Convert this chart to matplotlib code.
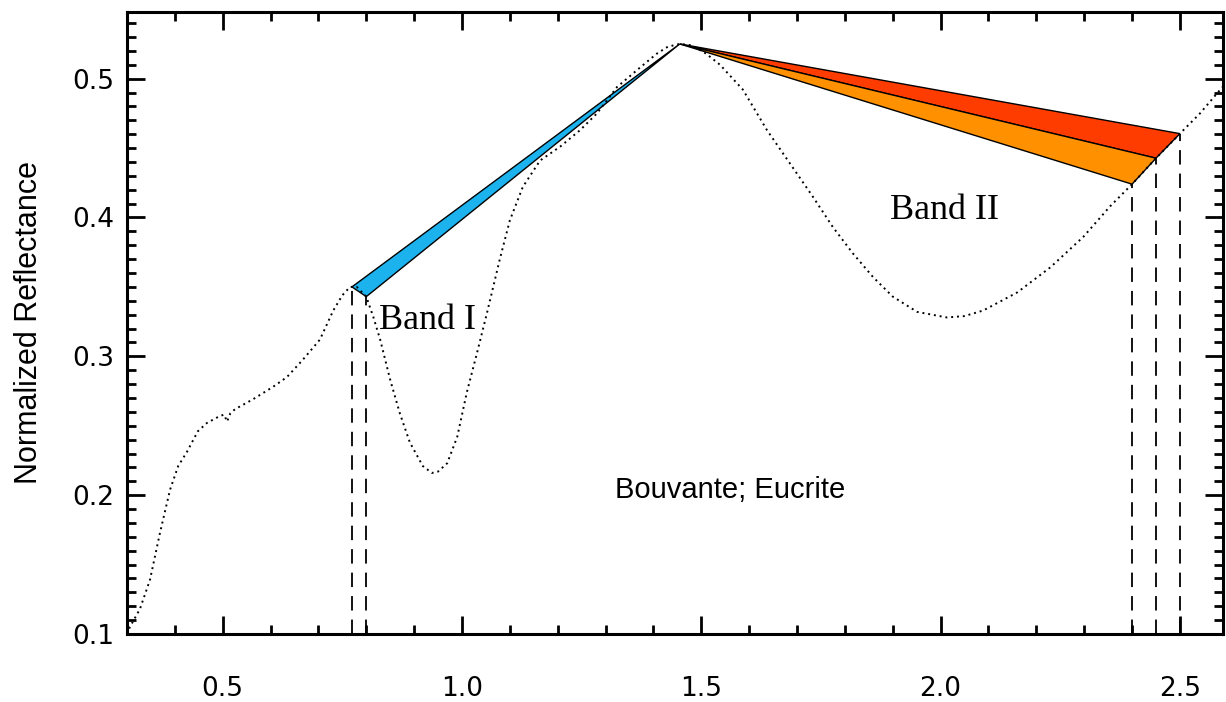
import numpy as np
import matplotlib
matplotlib.use("Agg")
import matplotlib.pyplot as plt
from matplotlib.ticker import MultipleLocator
from matplotlib.patches import Polygon

# Bouvante (eucrite) reflectance spectrum, normalized
wavelength = [0.300, 0.306, 0.327, 0.348, 0.369, 0.390, 0.407, 0.425, 0.448, 0.467,
              0.494, 0.503, 0.509, 0.516, 0.526, 0.563, 0.605, 0.634, 0.666, 0.703,
              0.731, 0.750, 0.766, 0.780, 0.800, 0.815, 0.829, 0.850, 0.870, 0.891,
              0.918, 0.937, 0.950, 0.969, 0.990, 1.010, 1.031, 1.052, 1.079, 1.100,
              1.127, 1.163, 1.205, 1.247, 1.282, 1.324, 1.372, 1.407, 1.430, 1.455,
              1.480, 1.510, 1.539, 1.587, 1.637, 1.685, 1.733, 1.775, 1.817, 1.859,
              1.900, 1.951, 2.013, 2.050, 2.089, 2.160, 2.229, 2.298, 2.354, 2.400,
              2.448, 2.496, 2.542, 2.584, 2.600]
reflectance = [0.100, 0.105, 0.118, 0.139, 0.173, 0.204, 0.221, 0.231, 0.246, 0.252,
               0.257, 0.258, 0.253, 0.259, 0.262, 0.269, 0.278, 0.285, 0.297, 0.312,
               0.333, 0.344, 0.350, 0.350, 0.343, 0.328, 0.312, 0.283, 0.259, 0.238,
               0.221, 0.216, 0.217, 0.223, 0.242, 0.274, 0.302, 0.331, 0.370, 0.398,
               0.422, 0.441, 0.451, 0.463, 0.475, 0.494, 0.508, 0.518, 0.523, 0.525,
               0.524, 0.518, 0.510, 0.492, 0.463, 0.439, 0.415, 0.393, 0.374, 0.357,
               0.343, 0.332, 0.328, 0.329, 0.333, 0.346, 0.364, 0.386, 0.408, 0.424,
               0.442, 0.459, 0.475, 0.492, 0.498]

# continuum end points (left shoulders of Band I, right shoulders of Band II)
band1_starts = [0.77, 0.80]
band2_ends = [2.40, 2.45, 2.50]
peak_x = 1.455

wl = np.array(wavelength)
refl = np.array(reflectance)
peak_y = np.interp(peak_x, wl, refl)

fig = plt.figure(figsize=(12.26, 7.02), dpi=100)
ax = fig.add_axes([127 / 1226, 68 / 702, 1096 / 1226, 622 / 702])

ax.plot(wl, refl, color="black", lw=1.4, linestyle=(0, (1, 2.0)), zorder=3)

# Band I continuum wedge
b1 = [(x, np.interp(x, wl, refl)) for x in band1_starts]
ax.add_patch(Polygon([b1[0], (peak_x, peak_y), b1[1]], closed=True,
                     facecolor="#1CB2EE", edgecolor="black", lw=1.0, zorder=2))

# Band II continuum wedges
b2 = [(x, np.interp(x, wl, refl)) for x in band2_ends]
ax.add_patch(Polygon([(peak_x, peak_y), b2[2], b2[1]], closed=True,
                     facecolor="#FF3C00", edgecolor="black", lw=1.0, zorder=2))
ax.add_patch(Polygon([(peak_x, peak_y), b2[1], b2[0]], closed=True,
                     facecolor="#FF9100", edgecolor="black", lw=1.0, zorder=2))

# dashed drop lines at the continuum end points
for x, y in b1 + b2:
    ax.plot([x, x], [0.1, y], color="black", lw=1.3, linestyle=(0, (8, 5)), zorder=1)

ax.set_xlim(0.3, 2.59)
ax.set_ylim(0.1, 0.548)

ax.xaxis.set_major_locator(MultipleLocator(0.5))
ax.xaxis.set_minor_locator(MultipleLocator(0.1))
ax.yaxis.set_major_locator(MultipleLocator(0.1))
ax.yaxis.set_minor_locator(MultipleLocator(0.01))
ax.set_xticks([0.5, 1.0, 1.5, 2.0, 2.5])
ax.set_xticklabels(["0.5", "1.0", "1.5", "2.0", "2.5"])
ax.set_yticks([0.1, 0.2, 0.3, 0.4, 0.5])
ax.set_yticklabels(["0.1", "0.2", "0.3", "0.4", "0.5"])

ax.tick_params(which="both", direction="in", top=True, right=True, width=2.0,
               labelsize=19)
ax.tick_params(which="major", length=13)
ax.tick_params(which="minor", length=6.5)
ax.tick_params(axis="x", which="major", pad=30)
ax.tick_params(axis="y", which="major", pad=9)
for lab in ax.get_xticklabels() + ax.get_yticklabels():
    lab.set_family("DejaVu Sans")
for sp in ax.spines.values():
    sp.set_linewidth(2.2)

ax.set_ylabel("Normalized Reflectance", family="Liberation Sans", fontsize=22)
ax.yaxis.set_label_coords(-0.076, 0.5)

ax.text(0.927, 0.326, "Band I", family="Liberation Serif", fontsize=26,
        ha="center", va="center")
ax.text(2.009, 0.405, "Band II", family="Liberation Serif", fontsize=26,
        ha="center", va="center")
ax.text(1.56, 0.204, "Bouvante; Eucrite", family="Liberation Sans", fontsize=21,
        ha="center", va="center")

fig.savefig("out.png", dpi=100)
